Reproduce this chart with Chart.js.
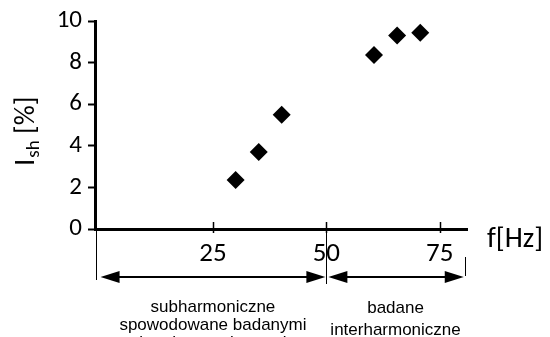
<!DOCTYPE html>
<html><head><meta charset="utf-8">
<script src="https://cdn.jsdelivr.net/npm/chart.js@4"></script>
<style>html,body{margin:0;padding:0;background:#fff}#w{width:550px;height:337px;position:relative}</style>
</head><body><div id="w"><canvas id="c"></canvas></div>
<script>
const fValues = [30, 35.1, 40.15, 60.5, 65.6, 70.7];
const iValues = [2.36, 3.70, 5.49, 8.37, 9.30, 9.44];
const xTicks = [25, 50, 75];
const yTicks = [0, 2, 4, 6, 8, 10];
const xRange = [-1, 81];
const yRange = [0, 10];
const bandEdges = [0, 50, 80.5];
const bandText1 = ['subharmoniczne', 'spowodowane badanymi', 'interharmonicznymi'];
const bandText2 = ['badane', 'interharmoniczne'];
const xTitle = 'f[Hz]';
const yTitleMain = 'I', yTitleSub = 'sh', yTitleRest = ' [%]';

const NUM_FONT = 'Carlito, Lato, sans-serif';

const annot = {
  id: 'annot',
  afterDraw(chart) {
    const ctx = chart.ctx, xs = chart.scales.x, ca = chart.chartArea;
    const b = ca.bottom;
    ctx.save();
    ctx.strokeStyle = '#000'; ctx.fillStyle = '#000';
    // x ticks crossing axis
    ctx.lineWidth = 1.5;
    xTicks.forEach(v => {
      const p = Math.round(xs.getPixelForValue(v)) + 0.5;
      ctx.beginPath(); ctx.moveTo(p, b - 7); ctx.lineTo(p, b + 4); ctx.stroke();
    });
    // vertical band separators
    ctx.lineWidth = 1;
    const vline = (x, y1, y2) => { ctx.beginPath(); ctx.moveTo(Math.round(x) + 0.5, y1); ctx.lineTo(Math.round(x) + 0.5, y2); ctx.stroke(); };
    vline(ca.left + 0.5, b + 2, b + 51);
    vline(xs.getPixelForValue(bandEdges[1]), b + 4, b + 55);
    vline(xs.getPixelForValue(bandEdges[2]), b + 28, b + 47);
    // arrows
    const ay = b + 48;
    const arrow = (x1, x2) => {
      const L = 19, H = 6;
      ctx.lineWidth = 2;
      ctx.beginPath(); ctx.moveTo(x1 + L - 2, ay); ctx.lineTo(x2 - L + 2, ay); ctx.stroke();
      ctx.beginPath(); ctx.moveTo(x1, ay); ctx.lineTo(x1 + L, ay - H); ctx.lineTo(x1 + L, ay + H); ctx.closePath(); ctx.fill();
      ctx.beginPath(); ctx.moveTo(x2, ay); ctx.lineTo(x2 - L, ay - H); ctx.lineTo(x2 - L, ay + H); ctx.closePath(); ctx.fill();
    };
    const e0 = xs.getPixelForValue(bandEdges[0]), e1 = xs.getPixelForValue(bandEdges[1]), e2 = xs.getPixelForValue(bandEdges[2]);
    arrow(e0 + 1, e1 - 1);
    arrow(e1 + 2, e2 - 1);
    // band texts
    ctx.font = '17px "Liberation Sans", Arial, sans-serif';
    ctx.textAlign = 'center'; ctx.textBaseline = 'alphabetic';
    const c1 = xs.getPixelForValue((bandEdges[0] + bandEdges[1]) / 2);
    const c2 = xs.getPixelForValue((bandEdges[1] + bandEdges[2]) / 2);
    bandText1.forEach((t, i) => ctx.fillText(t, c1, b + 83 + i * 18));
    bandText2.forEach((t, i) => ctx.fillText(t, c2, b + 84 + i * 22));
    // x title
    ctx.font = '29px ' + NUM_FONT;
    ctx.textAlign = 'left'; ctx.textBaseline = 'alphabetic';
    ctx.fillText(xTitle, ca.right + 20, b + 18);
    // y title rotated
    ctx.translate(34, 166);
    ctx.rotate(-Math.PI / 2);
    ctx.font = '29px ' + NUM_FONT;
    ctx.fillText(yTitleMain, 0, 0);
    let w = ctx.measureText(yTitleMain).width;
    ctx.font = '19px ' + NUM_FONT;
    ctx.fillText(yTitleSub, w + 1, 5);
    w += 1 + ctx.measureText(yTitleSub).width;
    ctx.font = '28px ' + NUM_FONT;
    ctx.fillText(yTitleRest, w, 0);
    ctx.restore();
  }
};

new Chart(document.getElementById('c'), {
  type: 'scatter',
  data: {
    datasets: [{
      data: fValues.map((f, i) => ({ x: f, y: iValues[i] })),
      pointStyle: 'rectRot',
      pointRadius: 9,
      pointHoverRadius: 9,
      backgroundColor: '#000',
      borderColor: '#000',
      borderWidth: 0
    }]
  },
  options: {
    responsive: true,
    maintainAspectRatio: false,
    animation: false,
    events: [],
    layout: { padding: { top: 20, right: 83, left: 0, bottom: 0 } },
    plugins: { legend: { display: false }, tooltip: { enabled: false } },
    scales: {
      x: {
        type: 'linear', min: xRange[0], max: xRange[1],
        afterBuildTicks: s => { s.ticks = xTicks.map(v => ({ value: v })); },
        afterFit: s => { s.height = 108; },
        grid: { display: true, drawOnChartArea: false, drawTicks: false },
        border: { display: true, color: '#000', width: 3 },
        ticks: { color: '#000', padding: 9, maxRotation: 0, font: { family: NUM_FONT, size: 27 } }
      },
      y: {
        type: 'linear', min: yRange[0], max: yRange[1],
        afterBuildTicks: s => { s.ticks = yTicks.map(v => ({ value: v })); },
        afterFit: s => { s.width = 95; },
        grid: { display: true, drawOnChartArea: false, drawTicks: true, tickLength: 7, tickWidth: 2, tickColor: '#000' },
        border: { display: true, color: '#000', width: 3 },
        ticks: { color: '#000', padding: 6, font: { family: NUM_FONT, size: 25 } }
      }
    }
  },
  plugins: [annot]
});
</script>
</body></html>
